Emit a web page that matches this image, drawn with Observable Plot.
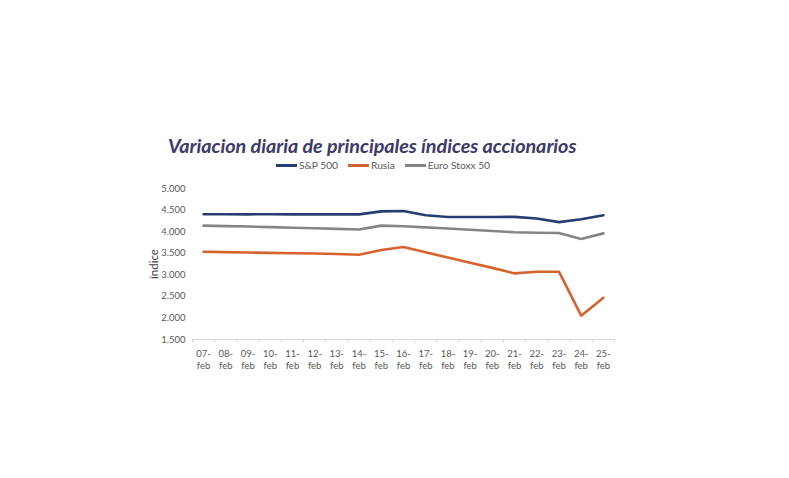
<!DOCTYPE html>
<html>
<head>
<meta charset="utf-8">
<script src="https://cdn.jsdelivr.net/npm/d3@7"></script>
<script src="https://cdn.jsdelivr.net/npm/@observablehq/plot@0.6"></script>
<style>
  body { margin: 0; background: #fff; }
  #wrap { position: relative; width: 789px; height: 478px; overflow: hidden; font-family: Lato, "Open Sans", sans-serif; }
  #title { position: absolute; left: 168px; top: 133px; font-size: 19.8px; font-weight: 700; font-style: italic; color: #3b3a6a; white-space: nowrap; letter-spacing: -0.05px; }
  #legend { position: absolute; left: 276px; top: 159px; font-size: 10.2px; color: #595959; white-space: nowrap; }
  #legend span.item { display: inline-block; margin-right: 10px; }
  #legend span.sw { display: inline-block; width: 21px; height: 3px; vertical-align: middle; margin-right: 2px; position: relative; top: -1px; }
  #chart { position: absolute; left: 0; top: 177px; }
</style>
</head>
<body>
<div id="wrap">
  <div id="title">Variacion diaria de principales índices accionarios</div>
  <div id="legend"></div>
  <div id="chart"></div>
</div>
<script>
const days = ["07","08","09","10","11","12","13","14","15","16","17","18","19","20","21","22","23","24","25"];
const month = "feb";
const seriesNames = ["S&P 500", "Rusia", "Euro Stoxx 50"];
const seriesColors = ["#263d73", "#d6622e", "#858585"];
const sp500 = [4402, 4402, 4401, 4403, 4400, 4400, 4401, 4400, 4470, 4477, 4380, 4340, 4340, 4340, 4342, 4304, 4220, 4288, 4380];
const rusia = [3533, 3525, 3515, 3508, 3500, 3492, 3482, 3464, 3575, 3645, 3520, 3400, 3280, 3160, 3032, 3072, 3072, 2052, 2467];
const stoxx = [4140, 4128, 4118, 4104, 4090, 4078, 4064, 4050, 4140, 4125, 4100, 4072, 4044, 4015, 3985, 3975, 3968, 3832, 3960];
const yTicks = [1500, 2000, 2500, 3000, 3500, 4000, 4500, 5000];
const yLabel = "índice";

const values = [sp500, rusia, stoxx];
const data = [];
values.forEach((arr, s) => arr.forEach((v, i) => data.push({i, value: v, series: seriesNames[s]})));

const fmt = d3.formatLocale({decimal: ",", thousands: ".", grouping: [3], currency: ["", ""]}).format(",");
const centers = days.map((d, i) => i);
const bounds = d3.range(days.length + 1).map(i => i - 0.5);

const legend = document.getElementById("legend");
seriesNames.forEach((n, k) => {
  const it = document.createElement("span");
  it.className = "item";
  const sw = document.createElement("span");
  sw.className = "sw";
  sw.style.background = seriesColors[k];
  it.appendChild(sw);
  it.appendChild(document.createTextNode(n));
  legend.appendChild(it);
});

const plot = Plot.plot({
  width: 789,
  height: 200,
  marginLeft: 192,
  marginRight: 175,
  marginTop: 11,
  marginBottom: 38,
  style: {fontFamily: "Lato, 'Open Sans', sans-serif", fontSize: "9.5px", color: "#595959", background: "transparent"},
  x: {type: "linear", domain: [-0.5, days.length - 0.5]},
  y: {domain: [1500, 5000]},
  color: {domain: seriesNames, range: seriesColors},
  marks: [
    Plot.ruleY([1500], {stroke: "#d9d9d9"}),
    Plot.axisY({ticks: yTicks, tickFormat: fmt, tickSize: 0, tickPadding: 7, label: null, fill: "#595959"}),
    Plot.axisX({ticks: bounds, tickSize: 4, tickFormat: () => "", stroke: "#d9d9d9", label: null}),
    Plot.axisX({ticks: centers, tickSize: 0, tickPadding: 8, tickFormat: i => days[i] + "-\n" + month, label: null, fill: "#595959", lineHeight: 1.35}),
    Plot.line(data, {x: "i", y: "value", z: "series", stroke: "series", strokeWidth: 2.6, curve: "linear"}),
    Plot.text([yLabel], {frameAnchor: "left", textAnchor: "middle", dx: -38, rotate: -90, fontSize: 11.5, fill: "#404040"})
  ]
});
document.getElementById("chart").appendChild(plot);
</script>
</body>
</html>
